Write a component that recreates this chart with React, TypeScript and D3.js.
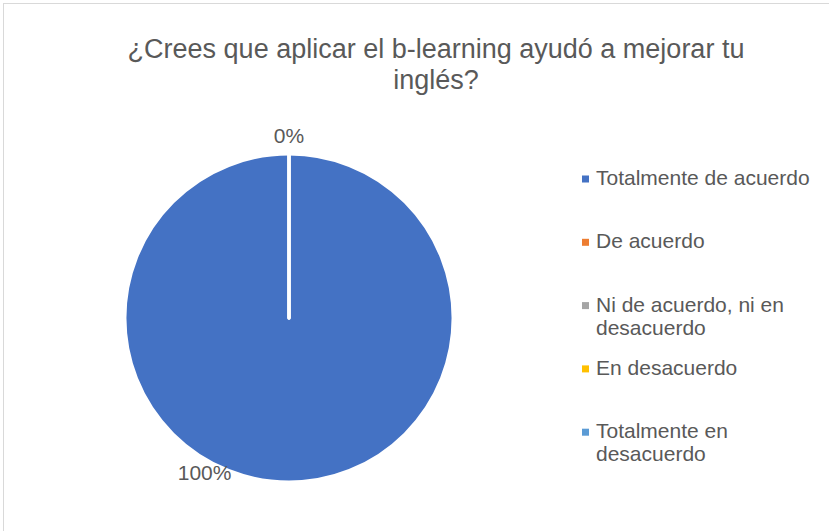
import { useEffect, useRef } from 'react'
import * as d3 from 'd3'

const categories = [
  'Totalmente de acuerdo',
  'De acuerdo',
  'Ni de acuerdo, ni en desacuerdo',
  'En desacuerdo',
  'Totalmente en desacuerdo',
]
const values = [100, 0, 0, 0, 0]
const colors = ['#4472C4', '#ED7D31', '#A5A5A5', '#FFC000', '#5B9BD5']
const legendLines = [
  ['Totalmente de acuerdo'],
  ['De acuerdo'],
  ['Ni de acuerdo, ni en', 'desacuerdo'],
  ['En desacuerdo'],
  ['Totalmente en', 'desacuerdo'],
]
const titleLines = ['¿Crees que aplicar el b-learning ayudó a mejorar tu', 'inglés?']

const W = 829
const H = 531
const FONT = '"Liberation Sans", Arial, sans-serif'
const TEXT = '#595959'

export default function App() {
  const svgRef = useRef<SVGSVGElement>(null)

  useEffect(() => {
    if (!svgRef.current) return
    const svg = d3.select(svgRef.current)
    svg.selectAll('*').remove()

    svg.append('rect').attr('width', W).attr('height', H).attr('fill', '#fff')
    // chart area border (right/bottom edges fall outside the picture)
    svg.append('rect').attr('x', 3.5).attr('y', 3.5).attr('width', W).attr('height', H)
      .attr('fill', 'none').attr('stroke', '#d9d9d9').attr('stroke-width', 1)

    // title
    const title = svg.append('text').attr('x', 436).attr('y', 58).attr('text-anchor', 'middle')
      .style('font-family', FONT).style('font-size', '27px').style('fill', TEXT)
    titleLines.forEach((t, i) => {
      title.append('tspan').attr('x', 436).attr('dy', i === 0 ? 0 : 31).text(t)
    })

    const cx = 289
    const cy = 318
    const r = 164

    const data = categories.map((c, i) => ({ name: c, value: values[i], color: colors[i] }))
    const pie = d3.pie<typeof data[0]>().sort(null).value(d => d.value)
    const arcs = pie(data)
    const arc = d3.arc<d3.PieArcDatum<typeof data[0]>>().innerRadius(0).outerRadius(r)

    const g = svg.append('g').attr('transform', `translate(${cx},${cy})`)
    g.selectAll('path.slice').data(arcs).enter().append('path')
      .attr('class', 'slice')
      .attr('d', arc)
      .attr('fill', d => d.data.color)
      .attr('stroke', '#fff')
      .attr('stroke-width', 3)
      .attr('stroke-linejoin', 'round')

    // data labels
    const total = d3.sum(values)
    const seen = new Set<string>()
    arcs.forEach(a => {
      const pct = Math.round((a.data.value / total) * 100) + '%'
      const full = a.value === total
      const mid = (a.startAngle + a.endAngle) / 2 + (full ? 0.5 : 0)
      const lr = full ? 176 : 182
      const x = Math.sin(mid) * lr
      const y = -Math.cos(mid) * lr
      const key = `${Math.round(x)},${Math.round(y)}`
      if (seen.has(key)) return
      seen.add(key)
      g.append('text').attr('x', x).attr('y', y).attr('dy', '0.35em')
        .attr('text-anchor', 'middle')
        .style('font-family', FONT).style('font-size', '21px').style('fill', TEXT)
        .text(pct)
    })

    // legend
    const legend = svg.append('g').attr('transform', 'translate(582,185)')
    legendLines.forEach((lines, i) => {
      const row = legend.append('g').attr('transform', `translate(0,${i * 63.3})`)
      row.append('rect').attr('x', 0).attr('y', -9.5).attr('width', 7).attr('height', 7).attr('fill', colors[i])
      const t = row.append('text').attr('x', 14).attr('y', 0)
        .style('font-family', FONT).style('font-size', '21px').style('fill', TEXT)
      lines.forEach((ln, j) => {
        t.append('tspan').attr('x', 14).attr('dy', j === 0 ? 0 : 23).text(ln)
      })
    })
  }, [])

  return <svg ref={svgRef} width={W} height={H} style={{ position: 'absolute', left: 0, top: 0 }} />
}
